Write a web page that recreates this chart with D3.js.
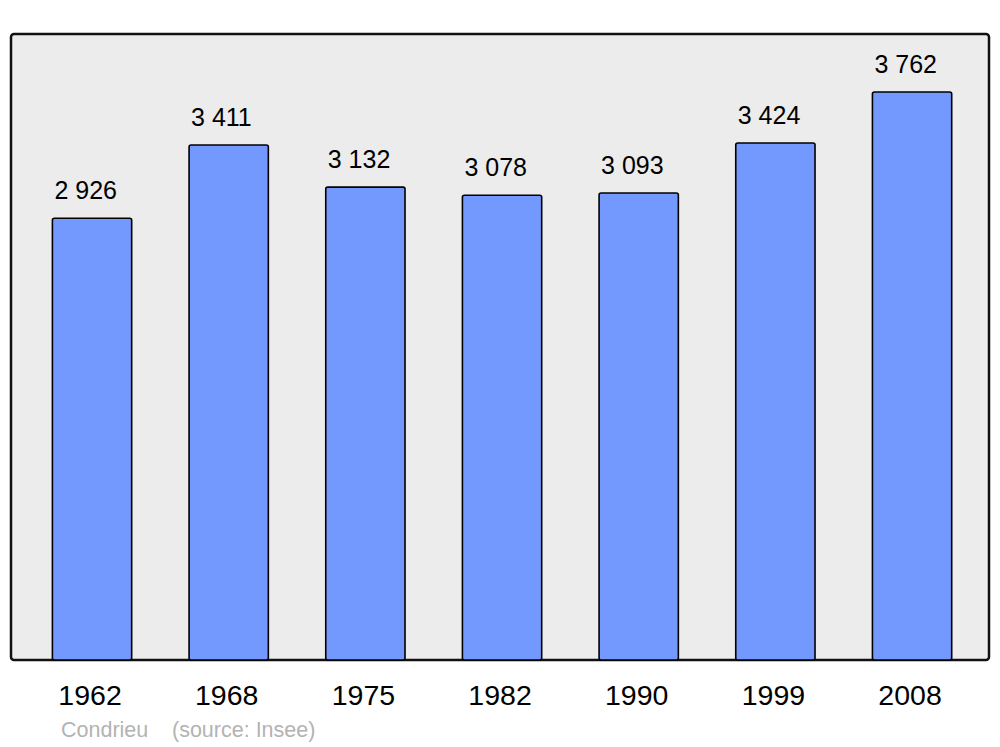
<!DOCTYPE html>
<html>
<head>
<meta charset="utf-8">
<script src="https://cdn.jsdelivr.net/npm/d3@7"></script>
<style>
  html, body { margin: 0; padding: 0; background: #fff; }
  svg { display: block; font-family: "Liberation Sans", Arial, sans-serif; }
</style>
</head>
<body>
<div id="chart"></div>
<script>
const years = ['1962', '1968', '1975', '1982', '1990', '1999', '2008'];
const population = [2926, 3411, 3132, 3078, 3093, 3424, 3762];
const commune = 'Condrieu';
const source = '(source: Insee)';

const width = 1000;
const height = 747;
const panel = { x: 11, y: 34, w: 978, h: 626 };

const fmt = v => d3.format(',')(v).replace(/,/g, ' ');

const svg = d3.select('#chart')
  .append('svg')
  .attr('width', width)
  .attr('height', height);

svg.append('rect')
  .attr('x', panel.x)
  .attr('y', panel.y)
  .attr('width', panel.w)
  .attr('height', panel.h)
  .attr('rx', 3)
  .attr('fill', '#ececec')
  .attr('stroke', '#111')
  .attr('stroke-width', 2.5);

const xScale = d3.scaleBand()
  .domain(years)
  .range([23.7, 980.4])
  .paddingInner(0.42)
  .paddingOuter(0.21);

const yScale = d3.scaleLinear()
  .domain([0, 4146])
  .range([panel.y + panel.h, panel.y]);

const data = years.map((y, i) => ({ year: y, value: population[i] }));

svg.append('g').attr('class', 'bars')
  .selectAll('rect')
  .data(data)
  .enter()
  .append('rect')
  .attr('x', d => xScale(d.year))
  .attr('y', d => yScale(d.value))
  .attr('width', xScale.bandwidth())
  .attr('height', d => yScale(0) - yScale(d.value))
  .attr('rx', 2)
  .attr('fill', '#7399ff')
  .attr('stroke', '#000')
  .attr('stroke-width', 1.6);

svg.append('g').attr('class', 'values')
  .selectAll('text')
  .data(data)
  .enter()
  .append('text')
  .attr('x', d => xScale(d.year) + 2)
  .attr('y', d => yScale(d.value) - 19)
  .attr('font-size', 25)
  .attr('fill', '#000')
  .text(d => fmt(d.value));

const xAxis = d3.axisBottom(xScale).tickSize(0).tickPadding(0);
const axisG = svg.append('g')
  .attr('transform', `translate(-2,${panel.y + panel.h})`)
  .call(xAxis);
axisG.select('.domain').remove();
axisG.selectAll('text')
  .attr('y', 45)
  .attr('dy', null)
  .attr('font-size', 28.5)
  .attr('font-family', '"Liberation Sans", Arial, sans-serif')
  .attr('fill', '#000');

svg.append('text')
  .attr('x', 61)
  .attr('y', 737)
  .attr('font-size', 21.5)
  .attr('fill', '#b3b3b3')
  .text(commune);

svg.append('text')
  .attr('x', 172)
  .attr('y', 737)
  .attr('font-size', 21.5)
  .attr('fill', '#b3b3b3')
  .text(source);
</script>
</body>
</html>
